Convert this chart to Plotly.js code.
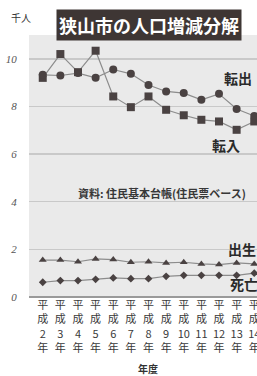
<!DOCTYPE html>
<html><head><meta charset="utf-8">
<script src="https://cdn.plot.ly/plotly-3.0.1.min.js"></script>
<style>html,body{margin:0;padding:0;overflow:hidden;background:#fff;width:257px;height:376px}#c{width:290px;height:376px}</style>
</head><body><div id="c"></div>
<script>
var categories = ['平成2年','平成3年','平成4年','平成5年','平成6年','平成7年','平成8年','平成9年','平成10年','平成11年','平成12年','平成13年','平成14年'];
var tickLabels = ['平<br>成<br>2<br>年','平<br>成<br>3<br>年','平<br>成<br>4<br>年','平<br>成<br>5<br>年','平<br>成<br>6<br>年','平<br>成<br>7<br>年','平<br>成<br>8<br>年','平<br>成<br>9<br>年','平<br>成<br>10<br>年','平<br>成<br>11<br>年','平<br>成<br>12<br>年','平<br>成<br>13<br>年','平<br>成<br>14<br>年'];
var tenshutsu = [9.33, 9.30, 9.40, 9.20, 9.55, 9.37, 8.90, 8.63, 8.56, 8.28, 8.53, 7.89, 7.60];
var tennyu    = [9.20, 10.20, 9.44, 10.34, 8.42, 7.97, 8.42, 7.86, 7.63, 7.44, 7.37, 7.02, 7.37];
var shussei   = [1.55, 1.55, 1.48, 1.60, 1.57, 1.46, 1.48, 1.43, 1.46, 1.39, 1.36, 1.43, 1.39];
var shibou    = [0.62, 0.69, 0.69, 0.74, 0.80, 0.77, 0.77, 0.87, 0.91, 0.91, 0.91, 0.91, 1.00];
var yTicks = [0, 2, 4, 6, 8, 10];

var lineC = '#8c8c8c', mk = '#4a4242';
function tr(y, sym, size){
  return {x: categories, y: y, type:'scatter', mode:'lines+markers', cliponaxis:false,
    line:{color:lineC, width:1.2}, marker:{symbol:sym, size:size, color:mk}, hoverinfo:'none'};
}
var data = [tr(tennyu,'square',8), tr(tenshutsu,'circle',8), tr(shussei,'triangle-up',7), tr(shibou,'diamond',6)];
var jp = '"Noto Sans CJK JP", "Noto Sans", sans-serif';
var layout = {
  width:290, height:376, showlegend:false,
  margin:{l:29, r:22, t:35, b:79},
  paper_bgcolor:'#ffffff', plot_bgcolor:'#eaeaea',
  font:{family:jp, color:'#333'},
  xaxis:{type:'category', range:[-0.78, 12.78], tickvals:categories, ticktext:tickLabels,
    showgrid:false, zeroline:false, showline:false, ticks:'',
    tickfont:{size:11, color:'#3a3a3a', family:jp}},
  yaxis:{range:[0,11], tickvals:yTicks, ticktext:yTicks.map(function(v){return '<i>'+v+'</i>';}), showgrid:true, gridcolor:'#c9c9c9', gridwidth:1.5,
    zeroline:true, zerolinecolor:'#9a9a9a', zerolinewidth:2, showline:false, ticks:'outside', ticklen:9, tickcolor:'rgba(0,0,0,0)',
    tickfont:{size:11, color:'#555', family:'"Liberation Serif", "DejaVu Serif", serif'}},
  annotations:[
    {xref:'paper', yref:'paper', x:0.502, y:1.038, text:'狭山市の人口増減分解', showarrow:false,
      font:{size:18, color:'#ffffff', family:jp, weight:'bold'}, bgcolor:'#3e3634', borderpad:2, xanchor:'center', yanchor:'middle'},
    {xref:'paper', yref:'paper', x:(21-29)/239, y:1+(35-18)/262, text:'千人', showarrow:false, font:{size:10, color:'#333'}, xanchor:'center', yanchor:'middle'},
    {xref:'paper', yref:'paper', x:(238-29)/239, y:(297-78)/262, text:'<b>転出</b>', showarrow:false, font:{size:14, color:'#2a2a2a'}, xanchor:'center', yanchor:'middle'},
    {xref:'paper', yref:'paper', x:(226-29)/239, y:(297-145)/262, text:'<b>転入</b>', showarrow:false, font:{size:14, color:'#2a2a2a'}, xanchor:'center', yanchor:'middle'},
    {xref:'paper', yref:'paper', x:(242-29)/239, y:(297-249)/262, text:'<b>出生</b>', showarrow:false, font:{size:14, color:'#2a2a2a'}, xanchor:'center', yanchor:'middle'},
    {xref:'paper', yref:'paper', x:(244-29)/239, y:(297-284)/262, text:'<b>死亡</b>', showarrow:false, font:{size:14, color:'#2a2a2a'}, xanchor:'center', yanchor:'middle'},
    {xref:'paper', yref:'paper', x:(76-29)/239, y:(297-193)/262, text:'<b>資料: 住民基本台帳(住民票ベース)</b>', showarrow:false, font:{size:11, color:'#383838'}, xanchor:'left', yanchor:'middle'},
    {xref:'paper', yref:'paper', x:(148-29)/239, y:-(368-297)/262, text:'<b>年度</b>', showarrow:false, font:{size:10, color:'#333'}, xanchor:'center', yanchor:'middle'}
  ]
};
Plotly.newPlot('c', data, layout, {staticPlot:true});
</script></body></html>
